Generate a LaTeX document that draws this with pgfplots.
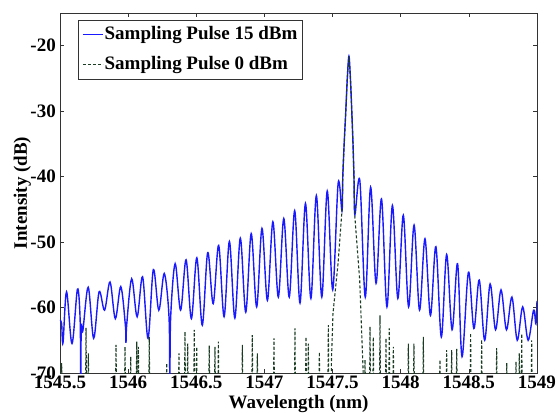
\documentclass[border=0pt]{standalone}
\usepackage{fontspec}
\setmainfont{Liberation Serif}
\usepackage{pgfplots}
\pgfplotsset{compat=1.18}
\definecolor{pulseblue}{rgb}{0.1,0.1,1}
\definecolor{pulsegreen}{RGB}{25,60,35}
\newcommand{\chartfont}{\fontsize{19}{22}\selectfont\bfseries}

% Spectrum for a 15 dBm sampling pulse (wavelength in nm, intensity in dB)
\pgfplotstableread{
x y
1545.500 -61.9
1545.512 -62.5
1545.522 -65.4
1545.548 -57.6
1545.588 -65.5
1545.628 -57.2
1545.648 -62.0
1545.652 -72.0
1545.656 -63.0
1545.668 -63.5
1545.707 -56.9
1545.747 -64.7
1545.787 -57.6
1545.827 -60.4
1545.867 -56.1
1545.906 -61.7
1545.946 -56.8
1545.980 -62.8
1545.984 -65.4
1545.990 -62.5
1546.026 -55.6
1546.066 -61.4
1546.106 -55.3
1546.146 -64.7
1546.185 -54.2
1546.225 -60.4
1546.265 -54.8
1546.300 -61.5
1546.306 -72.0
1546.312 -61.5
1546.345 -53.3
1546.385 -60.4
1546.425 -52.7
1546.464 -61.7
1546.504 -52.4
1546.544 -62.7
1546.584 -51.6
1546.624 -59.4
1546.664 -50.5
1546.704 -61.4
1546.743 -49.9
1546.783 -61.6
1546.823 -49.4
1546.863 -60.7
1546.903 -48.7
1546.943 -59.9
1546.982 -47.9
1547.022 -58.9
1547.062 -46.9
1547.102 -58.4
1547.142 -46.4
1547.182 -58.4
1547.222 -45.2
1547.261 -59.3
1547.301 -44.1
1547.341 -58.6
1547.381 -42.9
1547.421 -58.4
1547.461 -42.2
1547.501 -57.3
1547.541 -41.0
1547.569 -45.2
1547.575 -40.0
1547.585 -35.0
1547.597 -30.0
1547.608 -25.0
1547.620 -21.6
1547.631 -25.0
1547.641 -30.0
1547.650 -35.0
1547.657 -40.0
1547.664 -45.8
1547.700 -40.6
1547.740 -58.4
1547.779 -41.6
1547.819 -56.3
1547.859 -43.4
1547.899 -59.9
1547.939 -44.4
1547.979 -58.6
1548.019 -45.9
1548.058 -59.9
1548.098 -47.4
1548.138 -60.4
1548.178 -49.5
1548.218 -61.2
1548.258 -50.7
1548.298 -64.5
1548.337 -51.9
1548.377 -63.4
1548.417 -53.3
1548.450 -67.5
1548.497 -54.6
1548.537 -63.2
1548.576 -55.8
1548.616 -65.0
1548.656 -56.4
1548.696 -63.4
1548.736 -57.3
1548.776 -63.4
1548.816 -58.4
1548.855 -65.0
1548.895 -59.9
1548.935 -65.0
1548.975 -60.4
1548.992 -62.5
1549.000 -59.0
}\pulsehigh

% Spectrum for a 0 dBm sampling pulse: central line plus noise-floor spikes
\pgfplotstableread{
x y
1545.509 -72
1545.512 -68.5
1545.515 -72
1545.688 -72
1545.691 -63.1
1545.694 -72
1545.705 -72
1545.708 -67.0
1545.711 -72
1545.908 -72
1545.911 -65.7
1545.914 -72
1545.974 -72
1545.977 -66.0
1545.980 -72
1546.016 -72
1546.019 -67.5
1546.022 -72
1546.060 -72
1546.063 -65.2
1546.066 -72
1546.072 -72
1546.075 -66.0
1546.078 -72
1546.152 -72
1546.155 -64.5
1546.158 -72
1546.280 -72
1546.283 -68.5
1546.286 -72
1546.370 -72
1546.373 -67.0
1546.376 -72
1546.414 -72
1546.417 -63.7
1546.420 -72
1546.434 -72
1546.437 -65.5
1546.440 -72
1546.482 -72
1546.485 -63.4
1546.488 -72
1546.500 -72
1546.503 -66.0
1546.506 -72
1546.592 -72
1546.595 -65.8
1546.598 -72
1546.634 -72
1546.637 -66.0
1546.640 -72
1546.659 -72
1546.662 -65.2
1546.665 -72
1546.835 -72
1546.838 -65.7
1546.841 -72
1546.908 -72
1546.911 -64.2
1546.914 -72
1546.945 -72
1546.948 -67.0
1546.951 -72
1547.067 -72
1547.070 -64.7
1547.073 -72
1547.221 -72
1547.224 -63.2
1547.227 -72
1547.302 -72
1547.305 -64.5
1547.308 -72
1547.319 -72
1547.322 -65.5
1547.325 -72
1547.400 -72
1547.403 -66.8
1547.406 -72
1547.466 -72
1547.469 -62.7
1547.472 -72
1547.489 -72
1547.492 -68.0
1547.503 -60.9
1547.540 -53.3
1547.569 -45.2
1547.575 -40.0
1547.585 -35.0
1547.597 -30.0
1547.608 -25.0
1547.620 -21.6
1547.631 -25.0
1547.641 -30.0
1547.650 -35.0
1547.657 -40.0
1547.662 -45.7
1547.699 -55.8
1547.723 -69.0
1547.726 -72
1547.735 -72
1547.738 -68.0
1547.741 -72
1547.772 -72
1547.775 -62.9
1547.778 -72
1547.796 -72
1547.799 -64.5
1547.802 -72
1547.845 -72
1547.848 -61.2
1547.851 -72
1547.889 -72
1547.892 -64.7
1547.895 -72
1547.913 -72
1547.916 -63.2
1547.919 -72
1547.943 -72
1547.946 -66.0
1547.949 -72
1548.053 -72
1548.056 -65.5
1548.059 -72
1548.094 -72
1548.097 -65.5
1548.100 -72
1548.163 -72
1548.166 -64.5
1548.169 -72
1548.285 -72
1548.288 -68.0
1548.291 -72
1548.334 -72
1548.337 -66.5
1548.340 -72
1548.371 -72
1548.374 -66.5
1548.377 -72
1548.408 -72
1548.411 -66.3
1548.414 -72
1548.510 -72
1548.513 -63.9
1548.516 -72
1548.591 -72
1548.594 -64.9
1548.597 -72
1548.701 -72
1548.704 -66.2
1548.707 -72
1548.775 -72
1548.778 -68.5
1548.781 -72
1548.843 -72
1548.846 -68.3
1548.849 -72
1548.867 -72
1548.870 -67.0
1548.873 -72
1548.885 -72
1548.888 -64.0
1548.891 -72
1548.958 -72
1548.961 -65.0
1548.964 -72
}\pulselow

\begin{document}
\begin{tikzpicture}
\path[use as bounding box] (-60pt,-40pt) rectangle (498pt,373pt);
\begin{axis}[
  at={(0,0)}, anchor=south west,
  scale only axis, width=477pt, height=360pt,
  xmin=1545.5, xmax=1549, ymin=-70, ymax=-15,
  xtick={1545.5,1546,1546.5,1547,1547.5,1548,1548.5,1549},
  xticklabels={1545.5,1546,1546.5,1547,1547.5,1548,1548.5,1549},
  ytick={-70,-60,-50,-40,-30,-20},
  yticklabels={-70,-60,-50,-40,-30,-20},
  tick align=inside, major tick length=4pt,
  tick style={black!80, line width=0.6pt},
  axis line style={black!80, line width=0.8pt},
  tick label style={font=\chartfont},
  xticklabel style={inner sep=0pt, yshift=-3pt},
  yticklabel style={inner sep=0pt, xshift=-4pt},
  xlabel={Wavelength (nm)}, ylabel={Intensity (dB)},
  label style={font=\chartfont},
  xlabel style={at={(axis description cs:0.5,0)}, anchor=base, yshift=-35pt},
  ylabel style={at={(axis description cs:-0.0692,0.5)}, anchor=base},
  legend cell align=left,
  legend image code/.code={\draw[#1] (0pt,0pt) -- (20pt,0pt);},
  legend style={at={(axis description cs:0.0377,0.9806)}, anchor=north west,
    draw=black!80, line width=0.6pt, font=\chartfont,
    inner xsep=4pt, inner ysep=5pt, row sep=11pt, column sep=0pt,
    nodes={inner sep=1pt, text height=13pt, text depth=4pt}},
]
\addplot[pulseblue, line width=1.4pt, smooth, tension=0.55] table[x=x, y=y] {\pulsehigh};
\addlegendentry{Sampling Pulse 15 dBm}
\addplot[pulsegreen, line width=1.1pt, dash pattern=on 3pt off 2pt] table[x=x, y=y] {\pulselow};
\addlegendentry{Sampling Pulse 0 dBm}
\end{axis}
\end{tikzpicture}
\end{document}
